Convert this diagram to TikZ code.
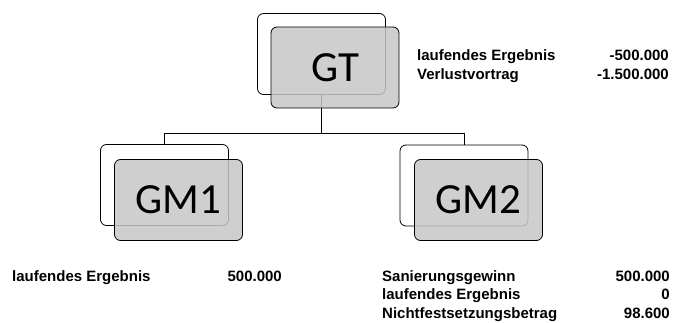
\documentclass[tikz,border=0pt]{standalone}
\usepackage{fontspec}
\setmainfont{Carlito}
\newfontfamily\labfont{Liberation Sans}
\definecolor{boxgray}{gray}{0.78}
\tikzset{
	backbox/.style={draw=black,line width=0.8pt,rounded corners=6pt,minimum width=128pt,minimum height=81pt,inner sep=0pt},
	frontbox/.style={backbox,fill=boxgray,fill opacity=0.85,text opacity=1,font=\fontsize{43}{43}\selectfont},
	lab/.style={anchor=base west,inner sep=0pt,font=\labfont\bfseries\fontsize{15}{18}\selectfont},
	val/.style={lab,anchor=base east}
}
\begin{document}
\begin{tikzpicture}[x=1pt,y=-1pt]
	\useasboundingbox (0,0) rectangle (675,323);
	% back boxes
	\node[backbox] (GTb) at (321.5,54) {};
	\node[backbox] (GMab) at (164.5,185) {};
	\node[backbox] (GMbb) at (464,185.5) {};
	% connectors
	\coordinate (bus) at (321.5,133);
	\draw[-,line width=0.8pt] (GTb.south)--(bus)-|(GMab.north);
	\draw[-,line width=0.8pt] (bus)-|(GMbb.north);
	% front boxes
	\node[frontbox] (GT) at (335,67.5) {GT};
	\node[frontbox] (GMa) at (178.5,200) {GM1};
	\node[frontbox] (GMb) at (478.5,200) {GM2};
	% figures GT
	\node[lab] (gtl1) at (417,61) {laufendes Ergebnis};
	\node[val] (gtv1) at (669,61) {-500.000};
	\node[lab] (gtl2) at (417,80) {Verlustvortrag};
	\node[val] (gtv2) at (669,80) {-1.500.000};
	% figures GM1
	\node[lab] (mal1) at (12,282) {laufendes Ergebnis};
	\node[val] (mav1) at (282,282) {500.000};
	% figures GM2
	\node[lab] (mbl1) at (382,282) {Sanierungsgewinn};
	\node[val] (mbv1) at (670,282) {500.000};
	\node[lab] (mbl2) at (382,300) {laufendes Ergebnis};
	\node[val] (mbv2) at (670,300) {0};
	\node[lab] (mbl3) at (382,318) {Nichtfestsetzungsbetrag};
	\node[val] (mbv3) at (670,318) {98.600};
\end{tikzpicture}
\end{document}
